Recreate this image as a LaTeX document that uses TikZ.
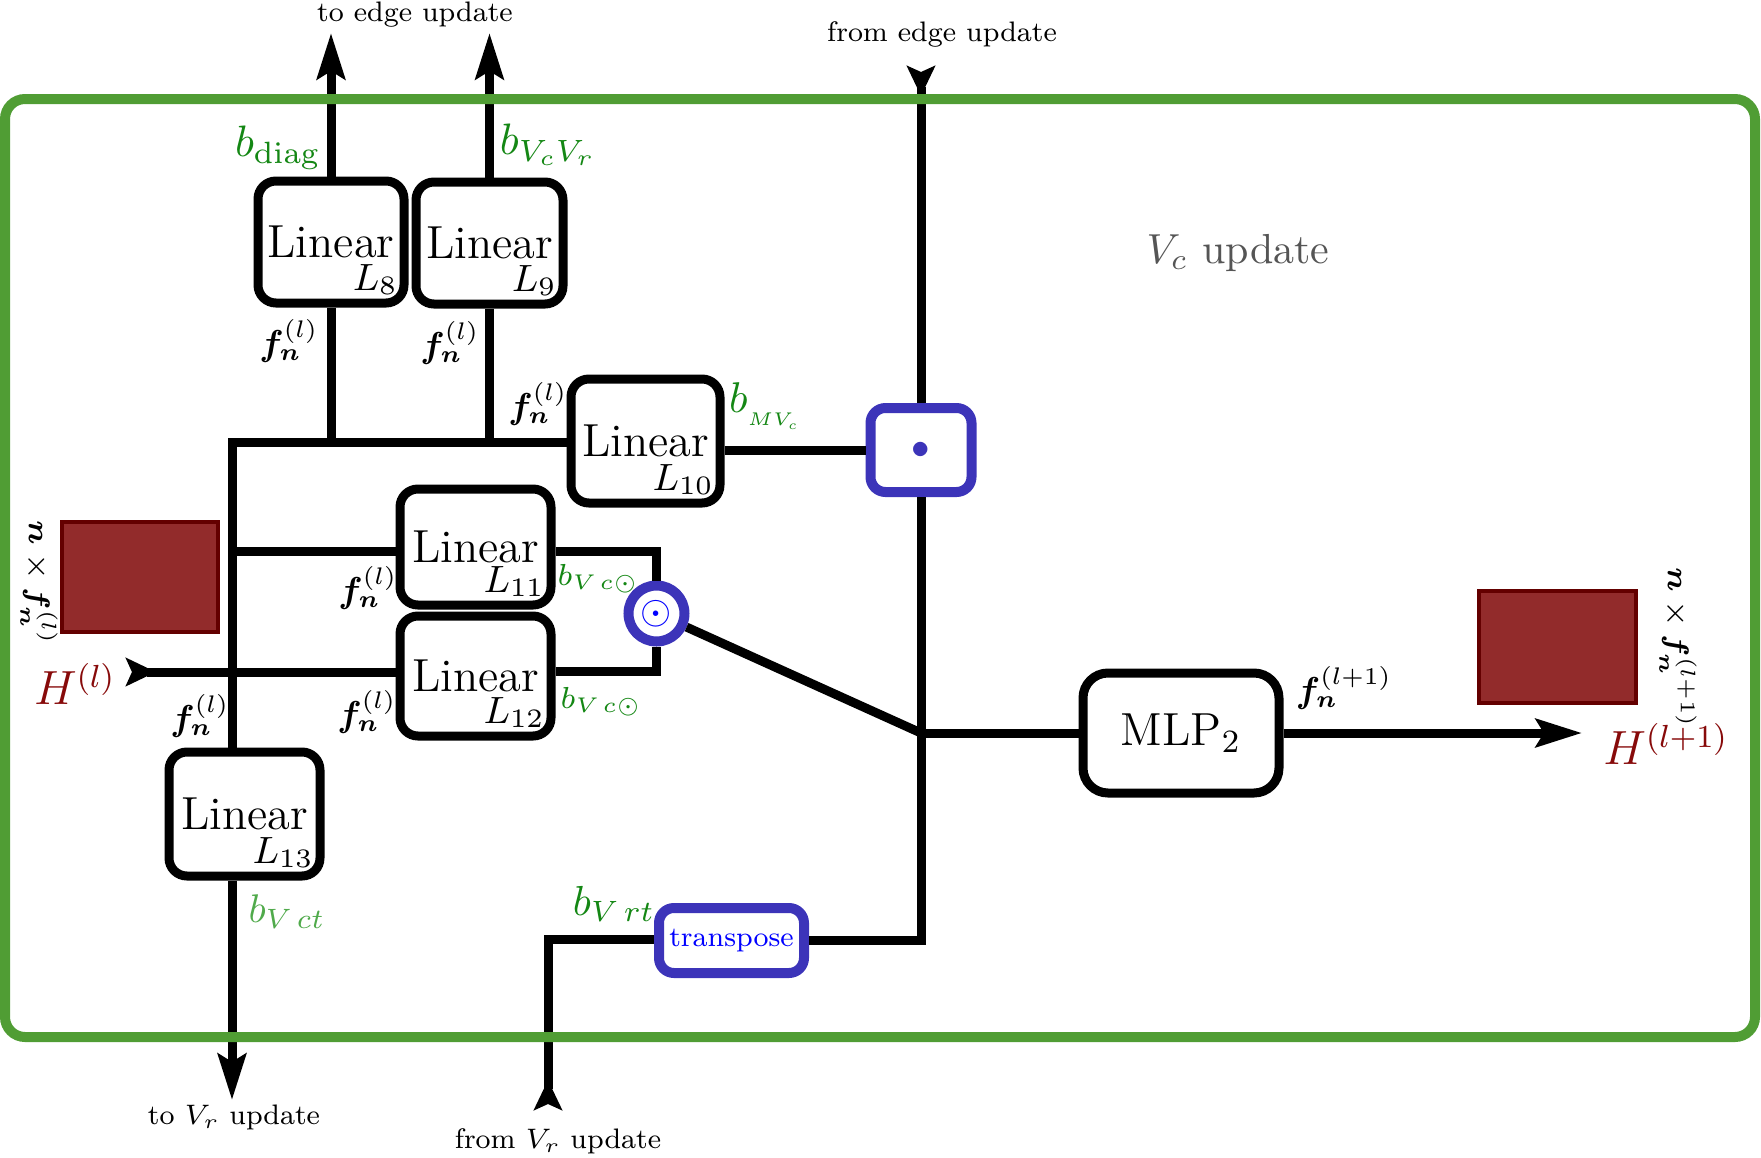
\RequirePackage{fix-cm}
\documentclass[tikz,border=0pt]{standalone}
\usepackage{amsmath}
\usepackage{bm}
\usepackage{graphicx}
\usetikzlibrary{arrows.meta}
\definecolor{frameG}{RGB}{80,157,52}
\definecolor{bG}{RGB}{20,135,20}
\definecolor{bLight}{RGB}{80,170,75}
\definecolor{hRed}{RGB}{135,10,10}
\definecolor{sqFill}{RGB}{146,43,43}
\definecolor{sqBorder}{RGB}{100,0,0}
\definecolor{opBlue}{RGB}{60,52,185}
\definecolor{txtBlue}{RGB}{0,0,255}
\definecolor{titleGray}{RGB}{85,85,85}
\newcommand{\narrowtxt}[1]{\scalebox{0.94}{#1}}
\begin{document}
\begin{tikzpicture}[x=0.25pt,y=-0.25pt,
  conn/.style={line width=2.25pt, black},
  outarrow/.style={-{Stealth[length=11.5pt,width=7pt,inset=2pt]}},
  inarrow/.style={{Stealth[reversed,length=7.5pt,width=7pt,inset=1.5pt]}-},
  lbox/.style={draw, line width=2.25pt, rounded corners=4.5pt, fill=white,
    inner sep=0pt, font=\fontsize{11.6}{13}\selectfont},
  lsub/.style={anchor=south east, inner sep=0pt, xshift=-2.5pt, yshift=3pt,
    font=\fontsize{9.5}{11}\selectfont},
  opbox/.style={draw=opBlue, line width=2.5pt, rounded corners=3.75pt, fill=white, inner sep=0pt},
  txt/.style={inner sep=0pt, font=\fontsize{7.5}{9}\selectfont},
  flab/.style={inner sep=0pt, font=\fontsize{9}{11}\selectfont},
  blab/.style={inner sep=0pt, text=bG, font=\fontsize{11}{13}\selectfont},
  bsmall/.style={inner sep=0pt, text=bG, font=\fontsize{7.6}{9}\selectfont},
  hlab/.style={inner sep=0pt, text=hRed, font=\fontsize{12}{14}\selectfont},
  square/.style={draw=sqBorder, fill=sqFill, line width=1pt}
]
\useasboundingbox (0,0) rectangle (1761,1158);

% ---- boxes ----
\node[lbox, minimum width=36.5pt, minimum height=30.5pt, label={[lsub]south east:$L_{8}$}] (L8) at (331,242) {Linear};
\node[lbox, minimum width=36.75pt, minimum height=30.5pt, label={[lsub]south east:$L_{9}$}] (L9) at (489.5,243) {Linear};
\node[lbox, minimum width=37.25pt, minimum height=31pt, label={[lsub]south east:$L_{10}$}] (L10) at (645.5,441) {Linear};
\node[lbox, minimum width=37.75pt, minimum height=29pt, label={[lsub]south east:$L_{11}$}] (L11) at (475.5,547) {Linear};
\node[lbox, minimum width=37.75pt, minimum height=30pt, label={[lsub]south east:$L_{12}$}] (L12) at (475.5,676) {Linear};
\node[lbox, minimum width=37.75pt, minimum height=31pt, label={[lsub]south east:$L_{13}$}] (L13) at (244.5,814) {Linear};
\node[lbox, rounded corners=6.25pt, minimum width=49pt, minimum height=30pt] (mlp) at (1181,733) {MLP$_2$};

\node[opbox, minimum width=25.25pt, minimum height=21pt, text=opBlue] (dot) at (921,450) {\fontsize{9}{9}\selectfont$\bullet$};
\node[opbox, minimum width=36.25pt, minimum height=16.25pt, text=txtBlue, font=\fontsize{7.5}{9}\selectfont] (tr) at (731.5,940.5) {\narrowtxt{transpose}};
\node[circle, draw=opBlue, line width=2.5pt, fill=white, minimum size=14pt, inner sep=0pt, text=txtBlue] (circ) at (656.5,613.5) {\fontsize{9.75}{9.75}\selectfont$\odot$};

% ---- squares ----
\draw[square] (62,522) rectangle (218,632);
\draw[square] (1479,591) rectangle (1636,703);

% ---- coordinates ----
\coordinate (toE1) at (331,33);
\coordinate (toE2) at (489.5,33);
\coordinate (busTL) at (232,442);
\coordinate (Hin) at (126,672);
\coordinate (J) at (921,733);
\coordinate (Hout) at (1582,733);
\coordinate (fromE) at (921,66);
\coordinate (fromVr) at (548,1110);
\coordinate (toVr) at (232,1100);
\coordinate (cornerVr) at (548,939);

% ---- connectors ----
\draw[conn, outarrow] (L8.north) -- (toE1);
\draw[conn, outarrow] (L9.north) -- (toE2);
\draw[conn] (L8.south) -- (L8.south |- busTL);
\draw[conn] (L9.south) -- (L9.south |- busTL);
\draw[conn] (L10.west |- busTL) -- (busTL) -- (busTL |- L13.north);
\draw[conn] (busTL |- 0,551) -- ([yshift=-1pt]L11.west);
\draw[conn, inarrow] (Hin) -- (Hin -| L12.west);
\draw[conn] ([yshift=-1pt]L11.east) -| (circ.north);
\draw[conn] ([yshift=1.25pt]L12.east) -| (circ.south);
\draw[conn] (circ) -- (J);
\draw[conn] (J) -- (mlp.west);
\draw[conn, outarrow] (mlp.east) -- (Hout);
\draw[conn] (L10.east |- dot.west) -- (dot.west);
\draw[conn, inarrow] (fromE) -- (dot.north);
\draw[conn] (dot.south) |- (tr.east);
\draw[conn, inarrow] (fromVr) -- (cornerVr) -- (tr.west |- cornerVr);
\draw[conn, outarrow] (L13.south -| busTL) -- (toVr);

% ---- labels ----
\node[txt] (tEdge) at (415,15) {\narrowtxt{to edge update}};
\node[txt] (fEdge) at (942,34) {\narrowtxt{from edge update}};
\node[txt] (tVr) at (234,1117) {\narrowtxt{to $V_r$ update}};
\node[txt] (fVr) at (558,1141) {\narrowtxt{from $V_r$ update}};
\node[inner sep=0pt, text=titleGray, font=\fontsize{10.5}{12}\selectfont] (title) at (1238,253) {$V_c$ update};

\node[blab] (bdiag) at (278,148) {$b_{\mathrm{diag}}$};
\node[blab] (bvcvr) at (548,145) {$b_{V_cV_r}$};
\node[blab, font=\fontsize{10.75}{12}\selectfont] (bmvc) at (764,406) {$b$\raisebox{-0.7ex}{\fontsize{4.6}{5}\selectfont$MV_{c}$}};
\node[bsmall] (bvc1) at (598,579) {$b_{V\mkern2mu c\odot}$};
\node[bsmall] (bvc2) at (601,702) {$b_{V\mkern2mu c\odot}$};
\node[blab, text=bLight, font=\fontsize{10}{12}\selectfont] (bvct) at (287,912) {$b_{V\,ct}$};
\node[blab, font=\fontsize{10.5}{12}\selectfont] (bvrt) at (614,904) {$b_{V\,rt}$};

\node[flab] (f1) at (289,341) {$\bm{f}_{\bm{n}}^{(l)}$};
\node[flab] (f2) at (450,343) {$\bm{f}_{\bm{n}}^{(l)}$};
\node[flab] (f3) at (538,404) {$\bm{f}_{\bm{n}}^{(l)}$};
\node[flab] (f4) at (368,588) {$\bm{f}_{\bm{n}}^{(l)}$};
\node[flab] (f5) at (367,712) {$\bm{f}_{\bm{n}}^{(l)}$};
\node[flab] (f6) at (200,716) {$\bm{f}_{\bm{n}}^{(l)}$};
\node[flab] (f7) at (1344,688) {$\bm{f}_{\bm{n}}^{(l+1)}$};

\node[hlab] (Hl) at (75,684) {$H^{(l)}$};
\node[hlab] (Hl1) at (1666,744) {$H^{(l+1)}$};

\node[txt, rotate=-90] (dimL) at (39,583) {$\bm{n}\times\bm{f}_{\bm{n}}^{(l)}$};
\node[txt, rotate=-90] (dimR) at (1678,648) {$\bm{n}\times\bm{f}_{\bm{n}}^{(l+1)}$};

% ---- frame (on top) ----
\draw[frameG, line width=2.5pt, rounded corners=5pt] (5,99) rectangle (1755,1037);
\end{tikzpicture}
\end{document}
